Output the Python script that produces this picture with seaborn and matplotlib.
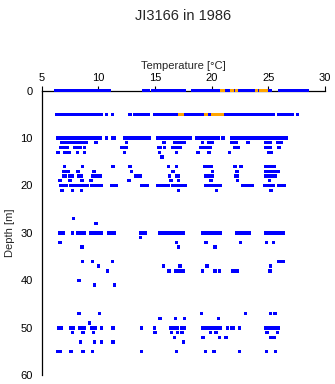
import matplotlib
matplotlib.use("Agg")
import matplotlib.pyplot as plt
import seaborn as sns
import pandas as pd

# ---- data: temperatures (°C) observed at each depth (m) ----
t_d0 = [6.2, 6.4, 6.6, 6.8, 7.0, 7.2, 7.4, 7.6, 7.8, 8.0, 8.2, 8.4, 8.6, 8.8, 9.0, 9.2, 9.4, 9.6, 9.8, 10.0, 10.2,
        10.4, 10.6, 10.8, 11.0, 14.0, 14.2, 14.4,
        14.8, 15.0, 15.2, 15.4, 15.6, 15.8, 16.0, 16.2, 16.4, 16.6, 16.8, 17.0, 17.2, 17.4, 17.6,
        18.3, 18.5, 18.7, 18.9, 19.1, 19.3, 19.5, 19.7, 19.9, 20.1, 20.3, 20.5, 20.7,
        21.2, 21.4, 21.6, 22.0, 22.5, 22.7, 22.9, 23.1, 23.3, 23.5, 23.7, 23.85, 24.12, 25.0, 25.2,
        26.0, 26.2, 26.4, 26.6, 26.8, 27.0, 27.2, 27.4, 27.6, 27.8, 28.05, 28.25, 28.45]
t_d5 = [6.3, 6.5, 6.7, 6.9, 7.1, 7.3, 7.5, 7.7, 7.9, 8.1, 8.3, 8.5, 8.7, 8.9, 9.1, 9.3, 9.5, 9.7, 9.9, 10.1, 10.3,
        10.7, 11.25, 12.8, 13.2, 13.4, 13.6, 13.8, 14.0, 14.2, 14.4,
        15.0, 15.2, 15.4, 15.6, 15.8, 16.0, 16.2, 16.4, 16.6, 16.8, 17.0,
        17.55, 17.75, 17.95, 18.15, 18.35, 18.55, 18.75, 18.95, 19.15, 19.35, 19.75, 19.95, 20.45,
        21.05, 21.25, 21.45, 21.65, 21.9, 22.2, 22.4, 22.6, 22.8, 23.0,
        23.25, 23.45, 23.65, 23.85, 24.05, 24.25, 24.45, 24.65, 24.85, 25.05, 25.25, 25.4,
        25.9, 26.1, 26.3, 26.5, 26.7, 26.9, 27.1, 27.6]
t_d10 = [6.4, 6.6, 6.8, 7.0, 7.2, 7.4, 7.6, 7.8, 8.0, 8.2, 8.4, 8.6, 8.8, 9.0, 9.2, 9.4, 9.6, 9.8, 10.0, 10.2,
         10.7, 11.3, 11.45, 12.3, 12.5, 12.7, 12.9, 13.1, 13.3, 13.5, 13.7, 13.9, 14.1, 14.25, 14.5,
         15.2, 15.4, 15.6, 15.8, 16.0, 16.2, 16.4, 16.6, 16.8, 17.0, 17.2, 17.4, 17.6, 17.8, 18.0, 18.15,
         18.7, 19.0, 19.2, 19.4, 19.6, 19.8, 20.0, 20.2, 20.4, 20.6, 21.0,
         21.8, 22.0, 22.2, 22.4, 22.6, 22.8, 23.0, 23.2, 23.4, 23.6, 23.8,
         24.0, 24.2, 24.4, 24.6, 24.8, 25.0, 25.2, 25.4, 25.6, 25.8, 26.0, 26.2, 26.4, 26.55]
t_d11 = [6.8, 7.0, 7.2, 7.4, 7.6, 7.95, 8.15, 8.35, 8.55, 8.9, 9.8, 12.5, 15.8, 16.75, 16.95, 17.15, 17.35, 17.55,
         19.2, 19.7, 19.9, 20.1, 21.8, 22.0, 22.2, 23.2, 24.75, 24.95, 25.15, 25.8, 26.0, 26.15]
t_d12 = [6.65, 6.85, 7.05, 7.25, 7.95, 8.15, 8.4, 8.8, 12.1, 12.3, 12.5, 15.3, 15.5, 15.85, 16.55, 16.75, 16.95,
         17.25, 19.05, 19.25, 19.45, 19.65, 19.85, 22.0, 22.2, 22.35, 24.75, 24.95, 25.15, 25.95]
t_d13 = [6.45, 7.0, 7.2, 7.4, 8.15, 8.8, 12.3, 15.4, 16.9, 18.8, 19.75, 21.55, 25.05, 25.25]
t_d14 = [15.6]
t_d16 = [7.0, 8.6, 11.3, 12.8, 16.2, 16.9, 19.35, 19.55, 19.75, 19.95, 22.05, 22.6, 24.8, 25.0, 25.2, 25.4, 25.55]
t_d17 = [6.9, 7.1, 7.35, 8.2, 9.6, 12.9, 16.6, 20.1, 22.25, 24.8, 25.0, 25.2, 25.4, 25.6, 25.85]
t_d18 = [6.95, 7.1, 7.5, 7.7, 8.25, 8.5, 9.5, 9.7, 9.9, 10.15, 13.3, 13.5, 13.7, 16.3, 16.9, 17.1,
         19.45, 19.65, 19.85, 20.1, 22.1, 22.3, 24.75, 24.95, 25.15, 25.45, 25.6]
t_d19 = [6.6, 7.5, 8.55, 9.35, 12.7, 16.4, 17.05, 19.95, 22.3, 25.1]
t_d20 = [6.7, 6.9, 7.15, 7.6, 7.8, 8.0, 8.2, 8.4, 8.6, 8.8, 9.05, 9.4, 9.6, 9.8, 10.0, 10.25,
         11.15, 11.35, 11.55, 13.8, 14.05, 14.3, 15.2, 15.4, 15.6, 15.8, 16.0, 16.2,
         16.55, 16.75, 16.95, 17.15, 17.35, 17.55, 17.7, 19.5, 19.7, 19.9, 20.1, 20.3, 20.5, 20.75,
         22.75, 22.95, 23.15, 23.35, 23.55, 24.65, 24.85, 25.05, 25.25, 25.4, 25.95, 26.15, 26.35, 26.45]
t_d21 = [6.8, 7.7, 8.5, 17.05, 20.45, 25.25]
t_d27 = [7.8]
t_d28 = [9.8]
t_d30 = [6.55, 6.75, 6.9, 7.7, 8.2, 8.4, 8.6, 8.75, 9.3, 9.5, 9.7, 9.9, 10.1, 10.25, 10.9, 11.1, 11.3, 11.4,
         13.75, 13.95, 14.1, 15.4, 15.6, 15.8, 16.0, 16.3, 16.45, 16.7, 16.9, 17.1, 17.3, 17.5,
         19.2, 19.4, 19.6, 19.8, 20.0, 20.2, 20.4, 20.6, 20.75, 22.2, 22.4, 22.65, 22.9, 23.1, 23.3,
         24.75, 24.95, 25.15, 25.35, 25.55, 25.75, 25.95, 26.15, 26.35]
t_d31 = [13.7]
t_d32 = [6.6, 16.9, 19.5, 22.55, 24.85, 25.45]
t_d33 = [8.55, 17.05, 20.3]
t_d36 = [8.6, 9.5, 11.25, 25.95, 26.15, 26.35]
t_d37 = [10.0, 15.75, 17.2, 19.6, 25.2]
t_d38 = [10.8, 16.25, 16.85, 17.05, 17.25, 17.5, 19.2, 20.3, 20.7, 21.9, 22.1, 22.3, 25.15]
t_d40 = [8.3]
t_d41 = [9.65, 11.4]
t_d47 = [8.3, 10.1, 19.1, 23.0, 25.2, 25.6]
t_d48 = [15.45, 16.8, 17.6, 20.6]
t_d49 = [9.2]
t_d50 = [6.5, 6.7, 7.55, 7.75, 8.35, 8.55, 8.75, 9.4, 9.7, 10.3, 11.3, 13.8, 14.95,
         16.35, 16.55, 16.75, 17.0, 17.35, 17.6, 19.25, 19.5, 19.8, 20.0, 20.2, 20.4, 20.6, 20.75,
         21.4, 21.8, 21.95, 22.45, 24.75, 24.95, 25.2, 25.5, 25.7, 25.85]
t_d51 = [7.7, 8.65, 9.55, 15.0, 16.45, 17.0, 17.4, 19.9, 20.4, 24.9, 25.8]
t_d52 = [16.7, 19.25, 20.7, 21.25, 25.25, 25.55]
t_d53 = [8.4, 9.65, 10.3, 11.3, 17.5]
t_d55 = [6.45, 6.65, 7.6, 8.65, 9.5, 13.8, 16.9, 19.45, 20.2, 22.45, 24.85, 25.65]

# flagged (orange) observations
flag_t_d0 = [20.9, 21.0, 21.8, 22.2, 23.95, 24.3, 24.5, 24.7, 24.85]
flag_t_d5 = [17.2, 17.4, 19.5, 20.1, 20.3, 20.6, 20.8, 20.95]

good_levels = [(0, t_d0), (5, t_d5), (10, t_d10), (11, t_d11), (12, t_d12), (13, t_d13), (14, t_d14),
               (16, t_d16), (17, t_d17), (18, t_d18), (19, t_d19), (20, t_d20), (21, t_d21),
               (27, t_d27), (28, t_d28), (30, t_d30), (31, t_d31), (32, t_d32), (33, t_d33),
               (36, t_d36), (37, t_d37), (38, t_d38), (40, t_d40), (41, t_d41), (47, t_d47),
               (48, t_d48), (49, t_d49), (50, t_d50), (51, t_d51), (52, t_d52), (53, t_d53), (55, t_d55)]
flag_levels = [(0, flag_t_d0), (5, flag_t_d5)]

rows = []
for d, ts in good_levels:
    rows += [{"Temperature": t, "Depth": d, "flag": "good"} for t in ts]
for d, ts in flag_levels:
    rows += [{"Temperature": t, "Depth": d, "flag": "flagged"} for t in ts]
df = pd.DataFrame(rows)

sns.set_style("white")
plt.rcParams["font.family"] = ["Liberation Sans", "DejaVu Sans"]

fig = plt.figure(figsize=(3.35, 3.84), dpi=100)
ax = fig.add_axes([0.1245, 0.0227, 0.8455, 0.7414])

sns.scatterplot(data=df, x="Temperature", y="Depth", hue="flag",
                palette={"good": "#0000ff", "flagged": "#ffa500"},
                marker="s", s=6, linewidth=0, legend=False, ax=ax, zorder=3)
for coll in ax.collections:
    coll.set_clip_on(False)

ax.set_xlim(5, 30)
ax.set_ylim(60, 0)
ax.xaxis.tick_top()
ax.xaxis.set_label_position("top")
ax.set_xticks([5, 10, 15, 20, 25, 30])
ax.set_yticks([0, 10, 20, 30, 40, 50, 60])
ax.set_xlabel("Temperature [°C]", fontsize=8, labelpad=3)
ax.set_ylabel("Depth [m]", fontsize=8, labelpad=4)
ax.tick_params(axis="both", labelsize=8, direction="out", length=3.5, width=0.8,
               color="black", labelcolor="black")
ax.tick_params(axis="x", pad=2)
ax.tick_params(axis="y", pad=3)
for side in ["right", "bottom"]:
    ax.spines[side].set_visible(False)
for side in ["left", "top"]:
    ax.spines[side].set_color("black")
    ax.spines[side].set_linewidth(0.9)
    ax.spines[side].set_zorder(2)
ax.set_facecolor("white")
ax.grid(False)

fig.text(0.545, 0.977, "JI3166 in 1986", ha="center", va="top", fontsize=10.5)

fig.savefig("out.png", dpi=100, facecolor="white")
